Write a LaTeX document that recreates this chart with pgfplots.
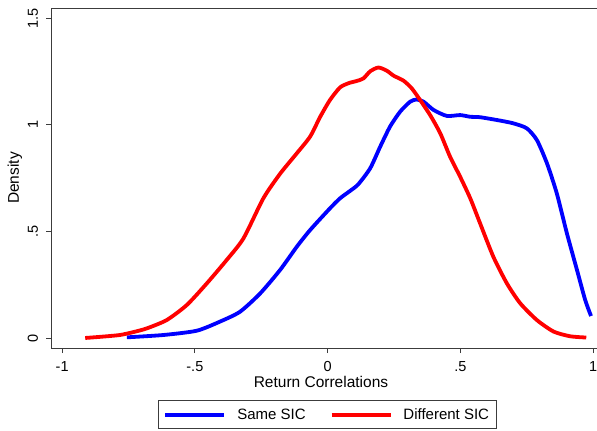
\documentclass[border=0pt]{standalone}
\usepackage{fontspec}
\setmainfont{Liberation Sans}
\usepackage{pgfplots}
\pgfplotsset{compat=1.18}

\definecolor{sameblue}{RGB}{0,0,255}
\definecolor{diffred}{RGB}{255,0,0}
\definecolor{framegray}{RGB}{60,60,60}

\begin{document}
\begin{tikzpicture}[x=1pt,y=1pt]
\useasboundingbox (0,0) rectangle (597,431);
\begin{axis}[
  at={(51.5pt,83pt)}, anchor=south west,
  scale only axis, width=548.3pt, height=340pt,
  xmin=-1.04, xmax=1.025, ymin=-0.047, ymax=1.547,
  xtick={-1,-0.5,0,0.5,1}, xticklabels={-1,-.5,0,.5,1},
  ytick={0,0.5,1,1.5}, yticklabels={0,.5,1,1.5},
  tick pos=left, tick align=outside, major tick length=5pt,
  every tick/.style={framegray, line width=0.8pt},
  axis line style={framegray, line width=0.9pt},
  ticklabel style={font=\fontsize{14.5}{17}\selectfont},
  yticklabel style={rotate=90, anchor=south, yshift=5pt},
  xticklabel style={yshift=-5pt},
  xlabel={Return Correlations}, ylabel={Density},
  label style={font=\fontsize{15.5}{18}\selectfont},
  xlabel style={at={(axis description cs:0.4915,-0.1)}, anchor=center},
  ylabel style={at={(axis description cs:-0.0666,0.5)}, anchor=center, rotate=0},
  legend columns=2,
  legend style={at={(0.503,-0.153)}, anchor=north, draw=framegray, line width=0.8pt,
    font=\fontsize{15}{18}\selectfont, inner xsep=5pt, inner ysep=6pt,
    /tikz/every odd column/.append style={column sep=9pt},
    /tikz/every even column/.append style={column sep=22pt}},
  legend cell align=left,
  legend image code/.code={\draw[#1] (0pt,0pt) -- (59pt,0pt);},
]
\addplot[sameblue, line width=3.8pt, smooth, tension=0.4] coordinates {
(-0.756,0.003) (-0.618,0.014) (-0.493,0.034) (-0.405,0.077) (-0.330,0.123)
(-0.254,0.209) (-0.179,0.319) (-0.116,0.428) (-0.066,0.506) (0.009,0.608)
(0.047,0.655) (0.085,0.690) (0.115,0.720) (0.160,0.795) (0.198,0.897)
(0.235,0.991) (0.273,1.061) (0.311,1.108) (0.335,1.118) (0.361,1.108)
(0.399,1.069) (0.449,1.041) (0.499,1.045) (0.537,1.037) (0.574,1.035)
(0.650,1.019) (0.700,1.006) (0.750,0.983) (0.788,0.928) (0.826,0.819)
(0.863,0.678) (0.901,0.491) (0.939,0.319) (0.970,0.178) (0.992,0.103)
};
\addlegendentry{Same SIC}
\addplot[diffred, line width=3.8pt, smooth, tension=0.4] coordinates {
(-0.913,0.000) (-0.850,0.006) (-0.782,0.014) (-0.730,0.028) (-0.681,0.045)
(-0.606,0.084) (-0.530,0.155) (-0.455,0.256) (-0.380,0.366) (-0.317,0.467)
(-0.242,0.655) (-0.179,0.770) (-0.116,0.866) (-0.066,0.944) (-0.028,1.037)
(0.009,1.116) (0.047,1.175) (0.080,1.195) (0.110,1.205) (0.135,1.217)
(0.160,1.250) (0.191,1.268) (0.223,1.253) (0.248,1.230) (0.286,1.206)
(0.317,1.170) (0.348,1.116) (0.386,1.045) (0.424,0.960) (0.461,0.850)
(0.499,0.756) (0.537,0.655) (0.574,0.538) (0.624,0.381) (0.675,0.256)
(0.725,0.163) (0.788,0.084) (0.851,0.030) (0.913,0.008) (0.974,0.002)
};
\addlegendentry{Different SIC}
\end{axis}
\end{tikzpicture}
\end{document}
